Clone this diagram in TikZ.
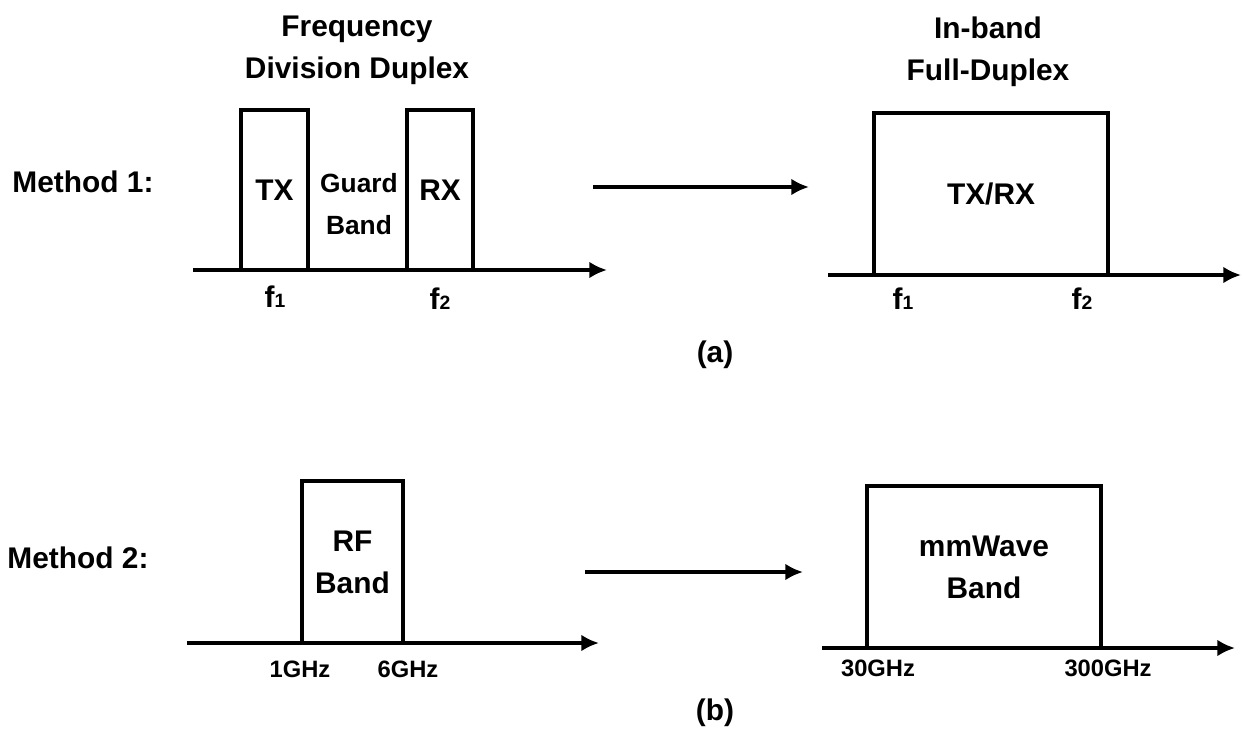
\documentclass[tikz,border=0pt]{standalone}
\usepackage{fontspec}
\setmainfont{Liberation Sans}
\usetikzlibrary{arrows.meta}

\begin{document}
\begin{tikzpicture}[x=0.02cm, y=-0.02cm,
  lbl/.style={font=\fontsize{17}{24}\selectfont\bfseries, align=center, inner sep=0pt},
  guard/.style={font=\fontsize{15}{24}\selectfont\bfseries, align=center, inner sep=0pt},
  tick/.style={font=\fontsize{13.5}{16}\selectfont\bfseries, inner sep=0pt},
  band/.style={draw, line width=2.3pt, inner sep=0pt, font=\fontsize{17}{24}\selectfont\bfseries, align=center},
  axis/.style={line width=2.3pt, -{Latex[length=10pt, width=9.5pt]}}]
\useasboundingbox (0,0) rectangle (1243,740);

\node[lbl] (m1) at (83,182) {Method 1:};
\node[lbl] (m2) at (78,558) {Method 2:};

\node[lbl] (fdd) at (357,50) {Frequency\\Division Duplex};
\node[lbl] (ifd) at (988,52) {In-band\\Full-Duplex};

\node[band, minimum width=1.34cm, minimum height=3.2cm] (tx) at (274.5,190) {TX};
\node[band, minimum width=1.32cm, minimum height=3.2cm] (rx) at (440,190) {RX};
\node[guard] (gb) at (359,204) {Guard\\Band};
\node[band, minimum width=4.68cm, minimum height=3.24cm] (txrx) at (991,194) {TX/RX};

\node[band, minimum width=2.02cm, minimum height=3.24cm] (rf) at (352.5,562) {RF\\Band};
\node[band, minimum width=4.68cm, minimum height=3.24cm] (mmw) at (984,567) {mmWave\\Band};

\coordinate (ax1s) at (193,270);
\coordinate (ax1e) at (607,270);
\coordinate (ax2s) at (828,275);
\coordinate (ax2e) at (1241,275);
\coordinate (ax3s) at (187,643);
\coordinate (ax3e) at (599,643);
\coordinate (ax4s) at (822,648);
\coordinate (ax4e) at (1235,648);
\draw[axis] (ax1s) -- (ax1e);
\draw[axis] (ax2s) -- (ax2e);
\draw[axis] (ax3s) -- (ax3e);
\draw[axis] (ax4s) -- (ax4e);

\coordinate (ar1s) at (593,187);
\coordinate (ar1e) at (809,187);
\coordinate (ar2s) at (585,572);
\coordinate (ar2e) at (803,572);
\draw[axis] (ar1s) -- (ar1e);
\draw[axis] (ar2s) -- (ar2e);

\node[lbl] (f1a) at (275,297) {f{\fontsize{11}{12}\selectfont 1}};
\node[lbl] (f2a) at (440,299) {f{\fontsize{11}{12}\selectfont 2}};
\node[lbl] (f1b) at (903,299) {f{\fontsize{11}{12}\selectfont 1}};
\node[lbl] (f2b) at (1082,299) {f{\fontsize{11}{12}\selectfont 2}};

\node[tick] (g1) at (300,669) {1GHz};
\node[tick] (g6) at (408,669) {6GHz};
\node[tick] (g30) at (878,668) {30GHz};
\node[tick] (g300) at (1108,668) {300GHz};

\node[lbl] (capa) at (715,355) {(a)};
\node[lbl] (capb) at (715,713) {(b)};
\end{tikzpicture}
\end{document}
